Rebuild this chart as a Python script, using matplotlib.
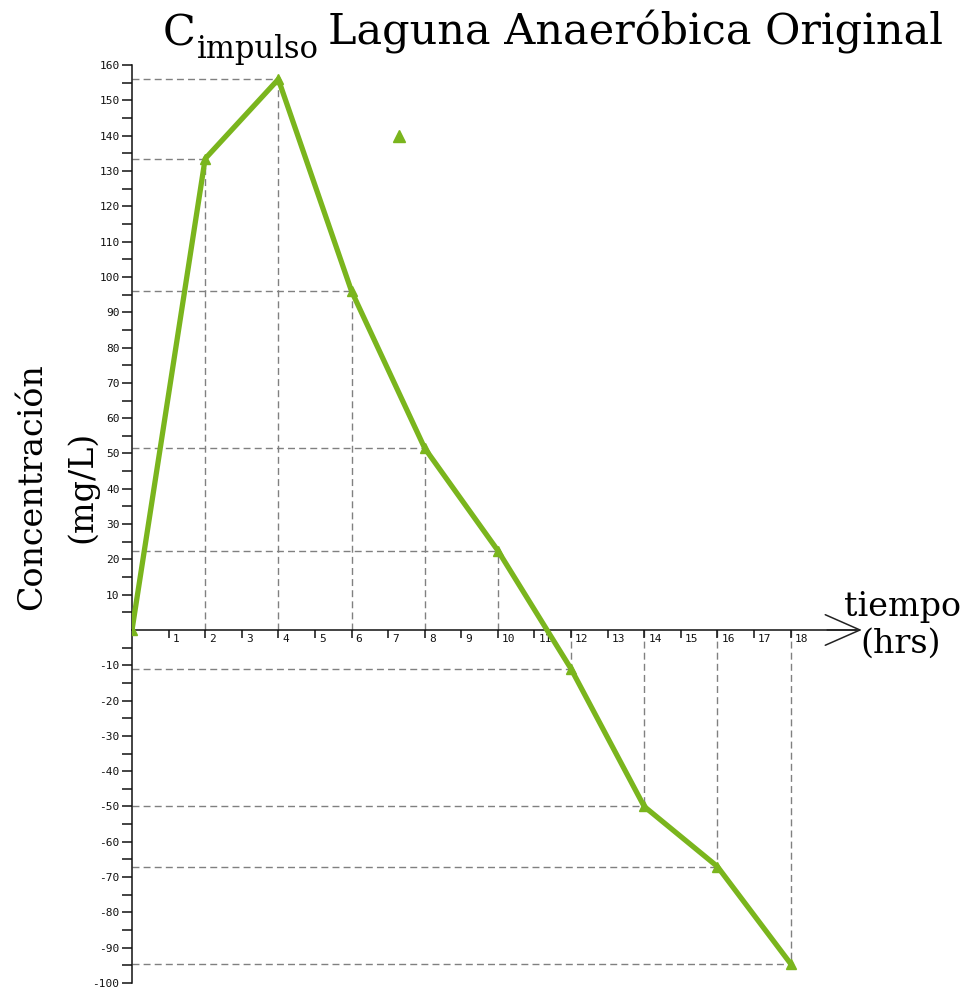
import matplotlib
matplotlib.use("Agg")
import matplotlib.pyplot as plt
from matplotlib.transforms import ScaledTranslation

# muestreo de la laguna: tiempo (hrs) vs concentración (mg/L)
tiempo = [0, 2, 4, 6, 8, 10, 12, 14, 16, 18]
concentracion = [0, 133.5, 156, 96, 51.5, 22.5, -11, -50, -67, -94.5]
suelto_x = [7.3]
suelto_y = [140]
x_ticks = list(range(1, 19))
y_major = [v for v in range(-100, 161, 10) if v != 0]
y_minor = [v for v in range(-95, 160, 10)]

GREEN = "#7ab51d"
DASH = "#808080"
SERIF = "DejaVu Serif"
MONO = "DejaVu Sans Mono"

plt.rcParams["lines.scale_dashes"] = False

W, H = 972, 990
fig = plt.figure(figsize=(W / 100, H / 100), dpi=100)
ax = fig.add_axes([132 / W, 7 / H, 750 / W, 935.5 / H])
ax.set_xlim(0, 20.5)
ax.set_ylim(-100, 165)

for s in ("top", "right"):
    ax.spines[s].set_visible(False)
ax.spines["left"].set_position(("data", 0))
ax.spines["left"].set_bounds(-100, 160)
ax.spines["bottom"].set_position(("data", 0))
ax.spines["bottom"].set_bounds(0, 19.8)
for s in ("left", "bottom"):
    ax.spines[s].set_linewidth(1.1)
    ax.spines[s].set_color("#111111")

# flecha del eje del tiempo
ax.annotate("", xy=(19.95, 0), xytext=(19.0, 0),
            arrowprops=dict(arrowstyle="->,head_length=2.5,head_width=1.1",
                            lw=1.1, color="#222222", shrinkA=0, shrinkB=0))

# ticks del eje y
ax.set_yticks(y_major)
ax.set_yticklabels([str(v) for v in y_major], fontfamily=MONO, fontsize=8)
ax.set_yticks(y_minor, minor=True)
ax.tick_params(axis="y", which="both", direction="out", length=7, width=1.1,
               pad=2, colors="#111111")

# ticks del eje x: etiqueta a la derecha de cada tick
ax.set_xticks(x_ticks)
ax.set_xticklabels([str(v) for v in x_ticks], fontfamily=MONO, fontsize=8)
ax.tick_params(axis="x", direction="out", length=6, width=1.1, pad=-3,
               colors="#111111")
offset = ScaledTranslation(3 / 72, 0, fig.dpi_scale_trans)
for lbl in ax.get_xticklabels():
    lbl.set_ha("left")
    lbl.set_va("top")
    lbl.set_transform(lbl.get_transform() + offset)

# líneas guía punteadas hacia los ejes
for x, y in zip(tiempo, concentracion):
    if x == 0:
        continue
    ax.plot([0, x], [y, y], color=DASH, lw=1.0, ls=(0, (5, 3)), zorder=1)
    ax.plot([x, x], [0, y], color=DASH, lw=1.0, ls=(0, (5, 3)), zorder=1)

ax.plot(tiempo, concentracion, color=GREEN, lw=3.8, marker="^",
        markersize=7, solid_joinstyle="round", zorder=3)
ax.plot(suelto_x, suelto_y, color=GREEN, ls="none", marker="^",
        markersize=8, zorder=3)

# títulos y rótulos
fig.text(163 / W, 1 - 46 / H, "C", fontfamily=SERIF, fontsize=31,
         ha="left", va="baseline")
fig.text(197 / W, 1 - 58 / H, "impulso", fontfamily=SERIF, fontsize=22,
         ha="left", va="baseline")
fig.text(943 / W, 1 - 44 / H, "Laguna Anaeróbica Original", fontfamily=SERIF,
         fontsize=31, ha="right", va="baseline")

fig.text(32 / W, 1 - 487 / H, "Concentración", fontfamily=SERIF, fontsize=24,
         rotation=90, ha="center", va="center")
fig.text(82 / W, 1 - 487 / H, "(mg/L)", fontfamily=SERIF, fontsize=24,
         rotation=90, ha="center", va="center")

fig.text(902 / W, 1 - 607 / H, "tiempo", fontfamily=SERIF, fontsize=24,
         ha="center", va="center")
fig.text(901 / W, 1 - 644 / H, "(hrs)", fontfamily=SERIF, fontsize=24,
         ha="center", va="center")

fig.savefig("out.png", dpi=100)
